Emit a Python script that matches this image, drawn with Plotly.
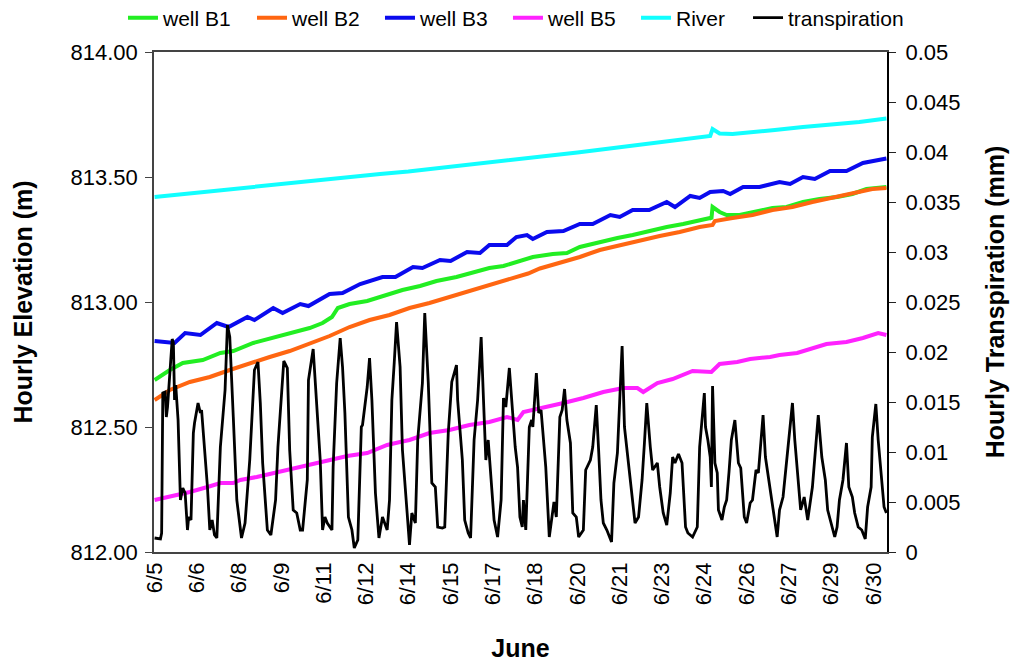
import pandas as pd
import plotly.graph_objects as go

# hours since 6/5 00:00
start = pd.Timestamp("2007-06-05 00:00")

b1_hours = [0, 13, 24, 41, 56, 67, 84, 101, 118, 132, 143, 151, 156, 166, 181, 194, 211, 226, 240, 257,
            271, 285, 297, 308, 322, 339, 351, 362, 379, 394, 407, 421, 436, 450, 462, 473, 474, 475, 481,
            487, 498, 509, 526, 538, 552, 566, 581, 594, 606, 623]
b1_elev = [812.688, 812.728, 812.756, 812.768, 812.796, 812.804, 812.836, 812.856, 812.876, 812.896,
           812.916, 812.940, 812.976, 812.992, 813.004, 813.024, 813.048, 813.064, 813.084, 813.100,
           813.116, 813.136, 813.144, 813.160, 813.180, 813.192, 813.196, 813.220, 813.240, 813.256,
           813.268, 813.284, 813.300, 813.312, 813.324, 813.336, 813.332, 813.380, 813.360, 813.348,
           813.348, 813.360, 813.376, 813.380, 813.400, 813.412, 813.420, 813.432, 813.452, 813.460]

b2_hours = [0, 13, 30, 47, 64, 81, 98, 115, 132, 149, 166, 183, 200, 217, 234, 251, 268, 285, 302, 318,
            328, 345, 362, 379, 396, 413, 430, 447, 464, 475, 477, 492, 509, 526, 543, 560, 577, 594, 611, 623]
b2_elev = [812.608, 812.648, 812.680, 812.700, 812.728, 812.756, 812.780, 812.804, 812.832, 812.864,
           812.900, 812.928, 812.948, 812.976, 812.996, 813.020, 813.040, 813.064, 813.088, 813.114,
           813.134, 813.156, 813.180, 813.208, 813.228, 813.248, 813.264, 813.280, 813.300, 813.308,
           813.324, 813.336, 813.348, 813.368, 813.380, 813.400, 813.416, 813.436, 813.452, 813.456]

b3_hours = [0, 17, 26, 39, 53, 63, 79, 85, 101, 109, 124, 131, 149, 160, 175, 194, 205, 220, 228, 243,
            252, 266, 277, 285, 300, 308, 317, 322, 334, 348, 362, 373, 388, 396, 407, 421, 436, 443,
            456, 464, 473, 484, 490, 501, 515, 532, 541, 552, 562, 575, 589, 603, 623]
b3_elev = [812.844, 812.836, 812.876, 812.868, 812.916, 812.900, 812.940, 812.928, 812.976, 812.956,
           812.992, 812.984, 813.032, 813.036, 813.072, 813.100, 813.100, 813.140, 813.136, 813.168,
           813.164, 813.200, 813.196, 813.228, 813.228, 813.260, 813.268, 813.252, 813.280, 813.284,
           813.312, 813.312, 813.348, 813.340, 813.368, 813.368, 813.400, 813.380, 813.424, 813.416,
           813.440, 813.444, 813.432, 813.460, 813.460, 813.480, 813.472, 813.500, 813.492, 813.524,
           813.524, 813.556, 813.574]

b5_hours = [0, 16, 30, 45, 56, 67, 73, 87, 101, 115, 130, 147, 164, 181, 198, 209, 217, 234, 251, 268,
            285, 300, 309, 314, 331, 348, 365, 382, 399, 411, 416, 422, 428, 441, 458, 474, 481, 496,
            507, 524, 532, 547, 560, 572, 589, 603, 616, 623]
b5_elev = [812.208, 812.224, 812.240, 812.260, 812.276, 812.276, 812.288, 812.300, 812.316, 812.332,
           812.348, 812.368, 812.384, 812.396, 812.428, 812.440, 812.448, 812.476, 812.488, 812.508,
           812.520, 812.540, 812.528, 812.560, 812.576, 812.596, 812.616, 812.640, 812.656, 812.656,
           812.640, 812.660, 812.676, 812.692, 812.724, 812.720, 812.752, 812.760, 812.772, 812.780,
           812.788, 812.796, 812.816, 812.832, 812.840, 812.856, 812.876, 812.868]

river_hours = [0, 24, 48, 72, 96, 120, 144, 168, 192, 216, 240, 264, 288, 312, 336, 360, 384, 408, 432,
               456, 473, 475, 481, 492, 515, 528, 552, 576, 600, 623]
river_elev = [813.420, 813.432, 813.444, 813.454, 813.466, 813.478, 813.488, 813.500, 813.512, 813.522,
              813.534, 813.546, 813.558, 813.570, 813.584, 813.598, 813.612, 813.626, 813.640, 813.654,
              813.664, 813.692, 813.674, 813.672, 813.680, 813.688, 813.700, 813.710, 813.720, 813.734]

tr_hours = [0, 5, 6, 7, 9, 10, 11, 15, 16, 17, 18, 20, 22, 24, 26, 28, 29, 31, 33, 34, 37, 39, 40, 43,
            45, 47, 49, 51, 53, 56, 60, 62, 64, 67, 70, 74, 77, 81, 85, 88, 90, 92, 96, 99, 103, 105,
            108, 110, 113, 115, 118, 121, 124, 126, 130, 131, 135, 138, 141, 143, 145, 147, 151, 152,
            155, 158, 160, 162, 165, 168, 170, 173, 176, 177, 181, 183, 185, 188, 191, 194, 195, 198,
            200, 202, 204, 206, 209, 211, 215, 217, 219, 222, 224, 228, 230, 233, 236, 239, 241, 245,
            247, 250, 253, 257, 258, 262, 264, 267, 269, 272, 275, 278, 280, 282, 284, 286, 289, 292,
            295, 297, 299, 302, 304, 307, 309, 311, 313, 314, 316, 319, 321, 322, 325, 327, 329, 330,
            333, 336, 338, 340, 342, 345, 347, 349, 351, 354, 356, 359, 361, 365, 367, 371, 373, 376,
            378, 380, 382, 385, 389, 391, 394, 398, 400, 403, 406, 409, 412, 415, 417, 419, 422, 424,
            428, 430, 433, 436, 439, 441, 443, 446, 449, 452, 454, 458, 462, 464, 468, 469, 471, 473,
            474, 475, 477, 479, 480, 483, 485, 487, 489, 491, 494, 497, 499, 502, 504, 507, 509, 512,
            514, 518, 520, 524, 527, 530, 532, 535, 538, 543, 545, 548, 550, 553, 556, 560, 562, 565,
            568, 571, 573, 577, 579, 581, 583, 586, 589, 591, 594, 596, 599, 602, 605, 607, 610, 611,
            614, 616, 619, 621, 623]
tr_mm = [0.0014, 0.0013, 0.0019, 0.0159, 0.0160, 0.0135, 0.0145, 0.0213, 0.0209, 0.0152, 0.0167, 0.0132,
         0.0052, 0.0064, 0.0059, 0.0022, 0.0035, 0.0032, 0.0119, 0.0129, 0.0149, 0.0139, 0.0142, 0.0099,
         0.0065, 0.0022, 0.0032, 0.0017, 0.0014, 0.0105, 0.0162, 0.0227, 0.0215, 0.0135, 0.0052, 0.0014,
         0.0029, 0.0092, 0.0182, 0.0190, 0.0149, 0.0089, 0.0022, 0.0017, 0.0052, 0.0105, 0.0155, 0.0191,
         0.0184, 0.0102, 0.0042, 0.0039, 0.0022, 0.0022, 0.0072, 0.0172, 0.0203, 0.0152, 0.0092, 0.0022,
         0.0035, 0.0029, 0.0022, 0.0085, 0.0169, 0.0214, 0.0185, 0.0139, 0.0035, 0.0022, 0.0004, 0.0012,
         0.0125, 0.0127, 0.0165, 0.0194, 0.0152, 0.0059, 0.0014, 0.0035, 0.0032, 0.0022, 0.0052, 0.0152,
         0.0189, 0.0230, 0.0185, 0.0102, 0.0039, 0.0007, 0.0039, 0.0029, 0.0112, 0.0169, 0.0239, 0.0169,
         0.0069, 0.0065, 0.0025, 0.0024, 0.0025, 0.0119, 0.0170, 0.0187, 0.0152, 0.0092, 0.0032, 0.0019,
         0.0014, 0.0112, 0.0152, 0.0215, 0.0152, 0.0092, 0.0112, 0.0079, 0.0032, 0.0015, 0.0052, 0.0154,
         0.0145, 0.0184, 0.0152, 0.0105, 0.0085, 0.0035, 0.0025, 0.0052, 0.0022, 0.0125, 0.0132, 0.0125,
         0.0179, 0.0139, 0.0142, 0.0127, 0.0085, 0.0015, 0.0035, 0.0050, 0.0035, 0.0135, 0.0142, 0.0163,
         0.0132, 0.0109, 0.0039, 0.0035, 0.0015, 0.0022, 0.0082, 0.0092, 0.0105, 0.0147, 0.0102, 0.0052,
         0.0029, 0.0022, 0.0010, 0.0069, 0.0099, 0.0206, 0.0125, 0.0092, 0.0065, 0.0029, 0.0035, 0.0072,
         0.0109, 0.0149, 0.0105, 0.0082, 0.0089, 0.0065, 0.0039, 0.0027, 0.0059, 0.0095, 0.0089, 0.0098,
         0.0089, 0.0025, 0.0019, 0.0015, 0.0025, 0.0105, 0.0159, 0.0125, 0.0112, 0.0095, 0.0065, 0.0166,
         0.0089, 0.0079, 0.0042, 0.0032, 0.0045, 0.0052, 0.0080, 0.0112, 0.0132, 0.0089, 0.0084, 0.0035,
         0.0029, 0.0049, 0.0052, 0.0082, 0.0079, 0.0137, 0.0095, 0.0065, 0.0039, 0.0015, 0.0042, 0.0055,
         0.0092, 0.0149, 0.0112, 0.0065, 0.0042, 0.0055, 0.0032, 0.0065, 0.0095, 0.0137, 0.0095, 0.0072,
         0.0042, 0.0025, 0.0015, 0.0025, 0.0052, 0.0072, 0.0109, 0.0065, 0.0055, 0.0039, 0.0025, 0.0022,
         0.0013, 0.0045, 0.0065, 0.0115, 0.0148, 0.0112, 0.0072, 0.0045, 0.0039]

tick_labels = ["6/5", "6/6", "6/8", "6/9", "6/11", "6/12", "6/14", "6/15", "6/17", "6/18",
               "6/20", "6/21", "6/23", "6/24", "6/26", "6/27", "6/29", "6/30"]


def to_time(hours):
    return start + pd.to_timedelta(hours, unit="h")


font = "Liberation Sans, Arial, sans-serif"

fig = go.Figure()
wells = [
    ("well B1", b1_hours, b1_elev, "#22ee22"),
    ("well B2", b2_hours, b2_elev, "#ff6611"),
    ("well B3", b3_hours, b3_elev, "#0a0aee"),
    ("well B5", b5_hours, b5_elev, "#ff22ff"),
    ("River", river_hours, river_elev, "#11ffff"),
]
legend_ids = ["legend", "legend2", "legend3", "legend4", "legend5", "legend6"]
for i, (name, hrs, vals, color) in enumerate(wells):
    fig.add_trace(go.Scatter(x=to_time(hrs), y=vals, name=name, mode="lines",
                             line=dict(color=color, width=4), legend=legend_ids[i]))

fig.add_trace(go.Scatter(x=to_time(tr_hours), y=tr_mm, name="transpiration", mode="lines",
                         line=dict(color="black", width=2.8), yaxis="y2", legend=legend_ids[5]))

tick_pos = pd.date_range(start, periods=len(tick_labels), freq="36h")

# page body adds an 8px offset, margins account for it
fig.update_layout(
    width=1018, height=660,
    margin=dict(l=146, r=139, t=44, b=116, autoexpand=False),
    paper_bgcolor="white", plot_bgcolor="white",
    font=dict(family=font, size=21, color="black"),
    showlegend=True,
    xaxis=dict(
        range=[to_time(-0.5), to_time(623.5)], automargin=False,
        tickvals=tick_pos, ticktext=tick_labels, tickangle=-90,
        ticks="", showgrid=False, zeroline=False,
        showline=True, linecolor="#444", linewidth=1.5, mirror=True,
        title=dict(text="June", font=dict(size=25, weight="bold"), standoff=35),
        tickfont=dict(size=22),
    ),
    yaxis=dict(
        range=[812, 814], dtick=0.5, tickformat=".2f", automargin=False,
        ticks="outside", ticklen=7, tickcolor="#444", ticklabelstandoff=3,
        showgrid=False, zeroline=False, showline=True, linecolor="#444", linewidth=1.5,
        title=dict(text="Hourly Elevation (m)", font=dict(size=25, weight="bold"), standoff=31),
        tickfont=dict(size=22),
    ),
    yaxis2=dict(
        range=[0, 0.05], dtick=0.005, overlaying="y", side="right", automargin=False,
        ticks="outside", ticklen=7, tickcolor="#222", ticklabelstandoff=5,
        showgrid=False, zeroline=False, showline=True, linecolor="black", linewidth=2,
        title=dict(text="Hourly Transpiration (mm)", font=dict(size=25, weight="bold"), standoff=27),
        tickfont=dict(size=22),
    ),
)

legend_x = [-0.0423, 0.1337, 0.3083, 0.4829, 0.6576, 0.8104]
for lid, lx in zip(legend_ids, legend_x):
    fig.update_layout({lid: dict(orientation="h", x=lx, y=1.068, xanchor="left", yanchor="middle",
                                 font=dict(size=21), itemwidth=30,
                                 bgcolor="rgba(0,0,0,0)")})

fig.write_html("out.html")
